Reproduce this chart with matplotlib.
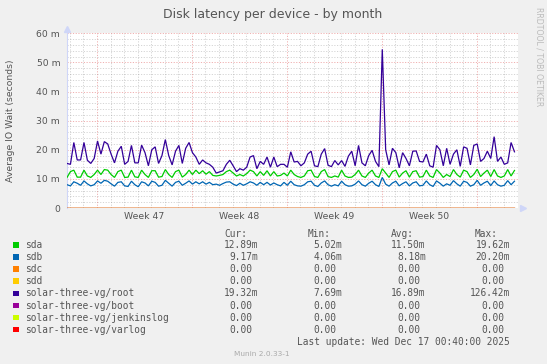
import matplotlib
matplotlib.use("Agg")
import matplotlib.pyplot as plt
from matplotlib.patches import Rectangle
import numpy as np

W, H = 547, 364

# legend rows
names = ["sda", "sdb", "sdc", "sdd", "solar-three-vg/root", "solar-three-vg/boot",
         "solar-three-vg/jenkinslog", "solar-three-vg/varlog"]
colors = ["#00CC00", "#0066B3", "#FF8000", "#FFCC00", "#330099", "#990099",
          "#CCFF00", "#FF0000"]
cur_ms = [12.89, 9.17, 0, 0, 19.32, 0, 0, 0]
min_ms = [5.02, 4.06, 0, 0, 7.69, 0, 0, 0]
avg_ms = [11.50, 8.18, 0, 0, 16.89, 0, 0, 0]
max_ms = [19.62, 20.20, 0, 0, 126.42, 0, 0, 0]

week_labels = ["Week 47", "Week 48", "Week 49", "Week 50"]
ytick_vals = [0, 10, 20, 30, 40, 50, 60]
ytick_text = ["0", "10 m", "20 m", "30 m", "40 m", "50 m", "60 m"]

# samples every 6 h, milliseconds, first sample at Fri 14 Nov ~18:00
start_day = -2.21
step_day = 0.25
sda = [10.5, 12.5, 13.0, 10.6, 10.6, 13.0, 11.0, 10.5, 11.5, 13.0,
       11.5, 13.2, 13.0, 11.5, 10.5, 12.5, 13.0, 10.5, 10.6, 13.0,
       10.7, 10.5, 13.0, 11.5, 10.5, 12.8, 12.8, 10.6, 10.8, 13.2,
       11.5, 10.5, 12.5, 13.0, 10.6, 11.5, 13.0, 11.5, 13.0, 11.8,
       12.8, 11.6, 12.5, 11.2, 11.0, 11.2, 11.5, 12.5, 13.0, 12.0,
       11.0, 11.5, 11.0, 11.8, 13.0, 12.5, 11.0, 12.5, 11.2, 12.8,
       11.0, 12.5, 11.0, 11.2, 12.0, 11.0, 13.0, 11.5, 10.8, 10.5,
       11.0, 12.8, 13.0, 10.8, 10.5, 12.5, 13.2, 10.8, 10.5, 11.0,
       10.6, 13.0, 11.0, 10.5, 10.6, 11.5, 13.0, 11.0, 10.5, 12.0,
       13.0, 11.0, 10.5, 13.5, 12.0, 10.5, 12.5, 13.0, 10.6, 12.0,
       12.8, 10.6, 12.5, 12.8, 10.6, 10.8, 13.0, 11.0, 10.5, 13.2,
       12.0, 10.5, 11.5, 10.8, 13.2, 11.5, 10.6, 13.0, 12.5, 10.5,
       11.5, 13.3, 10.8, 12.0, 13.0, 10.8, 13.2, 11.0, 10.5, 11.0,
       13.2, 11.0, 12.9]
sdb = [8.0, 7.6, 9.0, 8.5, 7.8, 9.3, 8.3, 7.6, 8.0, 9.3,
       8.5, 9.5, 9.2, 8.3, 7.5, 8.8, 9.0, 7.6, 7.4, 9.2,
       8.0, 7.3, 9.0, 8.6, 7.6, 9.2, 8.8, 7.5, 7.8, 9.5,
       8.5, 7.5, 8.8, 9.2, 7.8, 8.5, 9.3, 8.2, 9.0, 8.3,
       9.0, 8.2, 8.8, 8.0, 8.2, 7.8, 8.4, 8.9, 9.0, 8.2,
       7.7, 8.5, 7.8, 8.3, 9.0, 8.6, 7.8, 8.8, 8.0, 8.8,
       7.9, 8.6, 8.0, 7.6, 8.8, 7.8, 9.2, 8.0, 7.6, 7.5,
       8.0, 9.0, 9.2, 7.8, 7.4, 8.6, 9.3, 8.0, 7.5, 8.0,
       7.6, 9.2, 8.0, 7.5, 7.6, 8.2, 9.3, 8.0, 7.5, 8.5,
       9.2, 8.0, 7.4, 10.5, 8.2, 7.5, 8.6, 9.2, 7.6, 8.4,
       9.0, 7.6, 8.6, 9.0, 7.6, 7.8, 9.3, 8.0, 7.4, 9.3,
       8.5, 7.5, 8.3, 7.8, 9.4, 8.3, 7.5, 9.2, 8.8, 7.5,
       8.0, 9.5, 7.8, 8.6, 9.2, 7.7, 9.3, 8.0, 7.5, 7.8,
       9.4, 8.0, 9.2]
root = [15.3, 15.0, 22.5, 16.5, 16.5, 22.5, 16.4, 15.3, 17.0, 23.0,
        18.5, 22.8, 22.0, 18.5, 15.5, 19.5, 21.2, 15.0, 16.0, 21.5,
        15.5, 15.5, 21.6, 19.0, 14.5, 20.0, 21.0, 15.3, 18.0, 23.5,
        18.0, 14.8, 19.5, 21.5, 15.3, 20.5, 22.5, 19.0, 17.5, 15.0,
        16.5, 15.5, 15.0, 14.0, 12.0, 12.4, 12.8, 15.0, 16.4, 14.5,
        12.5, 13.5, 13.0, 14.0, 17.5, 18.0, 13.5, 16.0, 15.0, 17.5,
        14.0, 17.5, 14.2, 15.0, 15.0, 14.0, 19.3, 15.8, 16.0, 14.5,
        15.5, 18.5, 19.5, 14.5, 14.2, 18.5, 20.4, 14.7, 14.2, 16.3,
        14.8, 16.3, 14.3, 17.8, 19.5, 14.5, 21.5, 15.5, 14.5, 18.0,
        19.8, 16.0, 14.2, 54.5, 20.0, 14.8, 20.5, 19.0, 13.8, 19.0,
        17.0, 14.5, 19.5, 19.6, 16.0, 15.8, 18.5, 14.5, 14.0, 21.5,
        20.0, 14.5, 20.5, 15.0, 18.5, 20.0, 14.3, 21.0, 20.5, 14.8,
        21.5, 22.0, 16.0, 17.0, 19.5, 17.0, 24.5, 16.0, 17.5, 15.0,
        15.5, 22.5, 19.3]
zero = [0.0] * len(root)
series = [sda, sdb, zero, zero, root, zero, zero, zero]

t = start_day + step_day * np.arange(len(root))

font_col = "#555555"
plt.rcParams["font.family"] = ["DejaVu Sans"]

fig = plt.figure(figsize=(W / 100, H / 100), dpi=100, facecolor="#F0F0F0")
ax = fig.add_axes([66.5 / W, 1 - 208 / H, (518 - 66.5) / W, (208 - 33.3) / H])
ax.set_facecolor("white")
ax.set_xlim(-2.25, 31.05)
ax.set_ylim(0, 60)
for s in ax.spines.values():
    s.set_visible(False)

# grid: daily / 2m minor, weekly / 10m major
minor_kw = dict(color="#8F8F8F", alpha=0.38, lw=0.7, ls=(0, (1.2, 1.6)), zorder=0)
major_kw = dict(color="#DD5050", alpha=0.45, lw=0.7, ls=(0, (1.2, 1.6)), zorder=0)
for d in range(-2, 31):
    ax.axvline(d, **(major_kw if d % 7 == 0 else minor_kw))
for v in range(2, 61, 2):
    ax.axhline(v, **(major_kw if v % 10 == 0 else minor_kw))

for vals, col in zip(series, colors):
    ax.plot(t, vals, color=col, lw=0.9, zorder=3, solid_joinstyle="miter")

# axis line + arrows
ax.plot([0, 0], [0, 1.02], transform=ax.transAxes, color="#CFD6F8", lw=0.8,
        clip_on=False, zorder=1)
ax.plot([0], [1.025], transform=ax.transAxes, marker="^", ms=4.5, color="#CFD6F8",
        clip_on=False, zorder=1)
ax.plot([1.012], [0], transform=ax.transAxes, marker=">", ms=4.5, color="#CFD6F8",
        clip_on=False, zorder=1)

ax.set_yticks(ytick_vals, ytick_text)
ax.set_xticks([3.5, 10.5, 17.5, 24.5], week_labels)
ax.tick_params(axis="y", length=0, pad=4.5, labelsize=6.7, labelcolor=font_col)
ax.tick_params(axis="x", length=0, pad=2.8, labelsize=6.7, labelcolor=font_col)


def fx(px):
    return px / W


def fy(py):
    return 1 - py / H


fig.text(fx(273), fy(18.3), "Disk latency per device - by month", ha="center",
         va="baseline", fontsize=9, color=font_col)
fig.text(fx(10.5), fy(120.5), "Average IO Wait (seconds)", rotation=90,
         ha="center", va="center", fontsize=6.7, color=font_col)
fig.text(fx(539), fy(56.5), "RRDTOOL / TOBI OETIKER", rotation=270,
         ha="center", va="center", fontsize=5.6, color="#BBBBBB")

mono = dict(family="DejaVu Sans Mono", fontsize=6.85, color=font_col, va="baseline")
char_w = 5.74
col_right = [258, 342.3, 425.7, 510]
for px, head in zip([224, 308, 391, 475], ["Cur:", "Min:", "Avg:", "Max:"]):
    fig.text(fx(px), fy(237.3), head, ha="left", **mono)


def fmt(v):
    return ("%.2fm" % v) if v else "%.2f" % v


for k, name in enumerate(names):
    y = 245 + 12.05 * k
    fig.add_artist(Rectangle((fx(13.3), fy(y + 2.7)), 5.4 / W, 5.4 / H,
                             transform=fig.transFigure, color=colors[k], lw=0))
    fig.text(fx(25), fy(y + 3.3), name, ha="left", **mono)
    for cx, vals in zip(col_right, [cur_ms, min_ms, avg_ms, max_ms]):
        v = vals[k]
        xr = cx if v else cx - char_w
        fig.text(fx(xr), fy(y + 3.3), fmt(v), ha="right", **mono)

fig.text(fx(510), fy(344.7), "Last update: Wed Dec 17 00:40:00 2025", ha="right", **mono)
fig.text(fx(262), fy(356), "Munin 2.0.33-1", ha="center", va="baseline",
         fontsize=5.3, color="#AAAAAA")

fig.savefig("out.png", dpi=100, facecolor=fig.get_facecolor())
